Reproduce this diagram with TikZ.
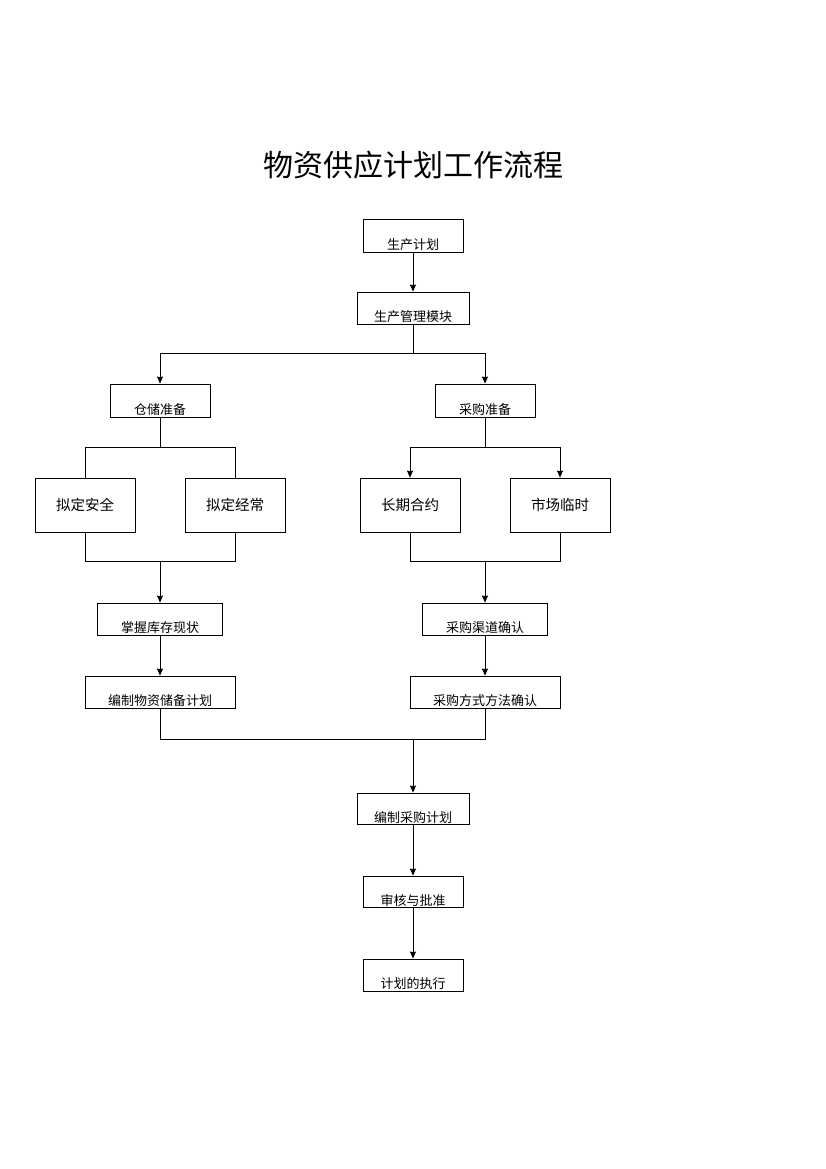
\documentclass[tikz,border=0pt]{standalone}
\usepackage{fontspec}
\newfontfamily\cjk{Noto Sans CJK SC}
\usetikzlibrary{arrows.meta}

\begin{document}
\begin{tikzpicture}[x=1pt,y=-1pt,
  box/.style={draw,line width=0.8pt,inner sep=0pt,font=\cjk\fontsize{13}{13}\selectfont,text height=27pt,text depth=0pt},
  bigbox/.style={draw,line width=0.8pt,inner sep=0pt,minimum width=100pt,minimum height=54pt,font=\cjk\fontsize{14.5}{14.5}\selectfont},
  flow/.style={->,line width=0.8pt,>={Stealth[length=7pt,width=6pt,inset=0.5pt]}},
  link/.style={line width=0.8pt}]
\useasboundingbox (0,0) rectangle (826,1169);

\node[font=\cjk\fontsize{30}{30}\selectfont] (title) at (413,165) {物资供应计划工作流程};

\node[box,minimum width=100pt,minimum height=33pt] (plan) at (413,235.5) {生产计划};
\node[box,minimum width=112pt,minimum height=32pt] (module) at (413,308) {生产管理模块};
\node[box,minimum width=100pt,minimum height=33pt] (store) at (160,400.5) {仓储准备};
\node[box,minimum width=100pt,minimum height=33pt] (buy) at (485,400.5) {采购准备};

\node[bigbox] (safe) at (85,505) {拟定安全};
\node[bigbox] (usual) at (235,505) {拟定经常};
\node[bigbox] (long) at (410,505) {长期合约};
\node[bigbox] (market) at (560,505) {市场临时};

\node[box,minimum width=125pt,minimum height=32pt] (stock) at (160,619) {掌握库存现状};
\node[box,minimum width=125pt,minimum height=32pt] (channel) at (485,619) {采购渠道确认};
\node[box,minimum width=150pt,minimum height=32pt] (reserve) at (160,692) {编制物资储备计划};
\node[box,minimum width=150pt,minimum height=32pt] (method) at (485,692) {采购方式方法确认};

\node[box,minimum width=112pt,minimum height=31pt] (purchase) at (413,808.5) {编制采购计划};
\node[box,minimum width=100pt,minimum height=31pt] (audit) at (413,891.5) {审核与批准};
\node[box,minimum width=100pt,minimum height=32pt] (exec) at (413,975) {计划的执行};

% branch points
\coordinate (split1) at (413,353);
\coordinate (split2) at (160,447);
\coordinate (split3) at (485,447);
\coordinate (join1) at (160,561);
\coordinate (join2) at (485,561);
\coordinate (join3) at (413,739);

\draw[flow] (plan)--(module);
\draw[link] (module)--(split1);
\draw[flow] (split1)-|(store);
\draw[flow] (split1)-|(buy);

\draw[link] (store)--(split2);
\draw[link] (split2)-|(safe);
\draw[link] (split2)-|(usual);
\draw[link] (buy)--(split3);
\draw[flow] (split3)-|(long);
\draw[flow] (split3)-|(market);

\draw[link] (safe)|-(join1);
\draw[link] (usual)|-(join1);
\draw[flow] (join1)--(stock);
\draw[link] (long)|-(join2);
\draw[link] (market)|-(join2);
\draw[flow] (join2)--(channel);

\draw[flow] (stock)--(reserve);
\draw[flow] (channel)--(method);

\draw[link] (reserve)|-(join3);
\draw[link] (method)|-(join3);
\draw[flow] (join3)--(purchase);
\draw[flow] (purchase)--(audit);
\draw[flow] (audit)--(exec);

\end{tikzpicture}
\end{document}
